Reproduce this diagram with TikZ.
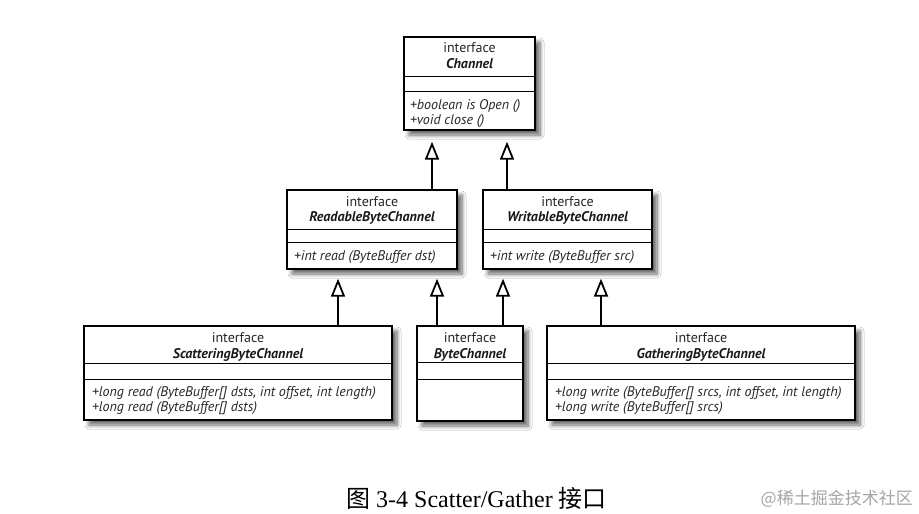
\documentclass[tikz,border=0pt]{standalone}
\usepackage{fontspec}
\setmainfont{Liberation Serif}
\newfontfamily\umlfont{PT Sans}
\newfontfamily\cjk{Noto Sans CJK SC}
\usetikzlibrary{arrows.meta,shadows.blur,calc}
\begin{document}
\begin{tikzpicture}[x=1pt,y=-1pt,
  cls/.style={draw=black, line width=1.4pt, fill=white, inner sep=0pt,
    blur shadow={shadow xshift=5pt, shadow yshift=-5pt, shadow blur steps=8, shadow blur radius=4pt, shadow opacity=60}},
  div/.style={line width=1.4pt},
  hd/.style={inner sep=0pt, text=black!85, font=\umlfont\fontsize{14}{16}\selectfont},
  nm/.style={inner sep=0pt, text=black!90, font=\umlfont\bfseries\itshape\fontsize{14}{16}\selectfont},
  mth/.style={inner sep=0pt, anchor=west, text=black!85, font=\umlfont\itshape\fontsize{14}{16}\selectfont},
  inh/.style={line width=2.6pt, -{Triangle[open, length=18pt, width=14pt, line width=1.8pt]}}
]
\fill[white] (0,0) rectangle (919,514);
\useasboundingbox (0,0) rectangle (919,514);

% Channel
\node[cls, minimum width=131pt, minimum height=93pt] (ch) at (469.5,83.5) {};
\draw[div] ($(ch.north west)+(0,40)$) -- ($(ch.north east)+(0,40)$);
\draw[div] ($(ch.north west)+(0,55)$) -- ($(ch.north east)+(0,55)$);
\node[hd] (chi) at (469.5,48) {interface};
\node[nm] (chn) at (469.5,64) {Channel};
\node[mth] (chm1) at (410,106) {+boolean is Open ()};
\node[mth] (chm2) at (410,121) {+void close ()};

% ReadableByteChannel
\node[cls, minimum width=170pt, minimum height=79pt] (rd) at (372,229.5) {};
\draw[div] ($(rd.north west)+(0,40)$) -- ($(rd.north east)+(0,40)$);
\draw[div] ($(rd.north west)+(0,53)$) -- ($(rd.north east)+(0,53)$);
\node[hd] (rdi) at (372,202) {interface};
\node[nm] (rdn) at (372,218) {ReadableByteChannel};
\node[mth] (rdm) at (294,257) {+int read (ByteBuffer dst)};

% WritableByteChannel
\node[cls, minimum width=169pt, minimum height=79pt] (wr) at (567.5,229.5) {};
\draw[div] ($(wr.north west)+(0,40)$) -- ($(wr.north east)+(0,40)$);
\draw[div] ($(wr.north west)+(0,53)$) -- ($(wr.north east)+(0,53)$);
\node[hd] (wri) at (567.5,202) {interface};
\node[nm] (wrn) at (567.5,218) {WritableByteChannel};
\node[mth] (wrm) at (490,257) {+int write (ByteBuffer src)};

% ScatteringByteChannel
\node[cls, minimum width=308pt, minimum height=94pt] (sc) at (238,373) {};
\draw[div] ($(sc.north west)+(0,38)$) -- ($(sc.north east)+(0,38)$);
\draw[div] ($(sc.north west)+(0,54)$) -- ($(sc.north east)+(0,54)$);
\node[hd] (sci) at (238,338) {interface};
\node[nm] (scn) at (238,355) {ScatteringByteChannel};
\node[mth] (scm1) at (92,393) {+long read (ByteBuffer[] dsts, int offset, int length)};
\node[mth] (scm2) at (92,408) {+long read (ByteBuffer[] dsts)};

% ByteChannel
\node[cls, minimum width=106pt, minimum height=95pt] (bc) at (470,373.5) {};
\draw[div] ($(bc.north west)+(0,37)$) -- ($(bc.north east)+(0,37)$);
\draw[div] ($(bc.north west)+(0,54)$) -- ($(bc.north east)+(0,54)$);
\node[hd] (bci) at (470,338) {interface};
\node[nm] (bcn) at (470,355) {ByteChannel};

% GatheringByteChannel
\node[cls, minimum width=308pt, minimum height=94pt] (ga) at (701,373) {};
\draw[div] ($(ga.north west)+(0,38)$) -- ($(ga.north east)+(0,38)$);
\draw[div] ($(ga.north west)+(0,54)$) -- ($(ga.north east)+(0,54)$);
\node[hd] (gai) at (701,338) {interface};
\node[nm] (gan) at (701,355) {GatheringByteChannel};
\node[mth] (gam1) at (555,393) {+long write (ByteBuffer[] srcs, int offset, int length)};
\node[mth] (gam2) at (555,408) {+long write (ByteBuffer[] srcs)};

% inheritance
\draw[inh] ([xshift=60pt]rd.north) -- ([xshift=-37.5pt,yshift=-11pt]ch.south);
\draw[inh] ([xshift=-60.5pt]wr.north) -- ([xshift=37.5pt,yshift=-11pt]ch.south);
\draw[inh] ([xshift=100pt]sc.north) -- ([xshift=-34pt,yshift=-9pt]rd.south);
\draw[inh] ([xshift=-33pt]bc.north) -- ([xshift=65pt,yshift=-9pt]rd.south);
\draw[inh] ([xshift=33pt]bc.north) -- ([xshift=-64.5pt,yshift=-9pt]wr.south);
\draw[inh] ([xshift=-100pt]ga.north) -- ([xshift=33.5pt,yshift=-9pt]wr.south);

% caption
\node[anchor=base, inner sep=0pt, font=\fontsize{24}{28}\selectfont] (cap) at (476.5,507)
  {{\cjk 图} 3-4 Scatter/Gather {\cjk 接口}};
\node[anchor=base east, inner sep=0pt, text=black!35, font=\cjk\fontsize{17}{20}\selectfont] (wm) at (913,504)
  {@稀土掘金技术社区};
\end{tikzpicture}
\end{document}
